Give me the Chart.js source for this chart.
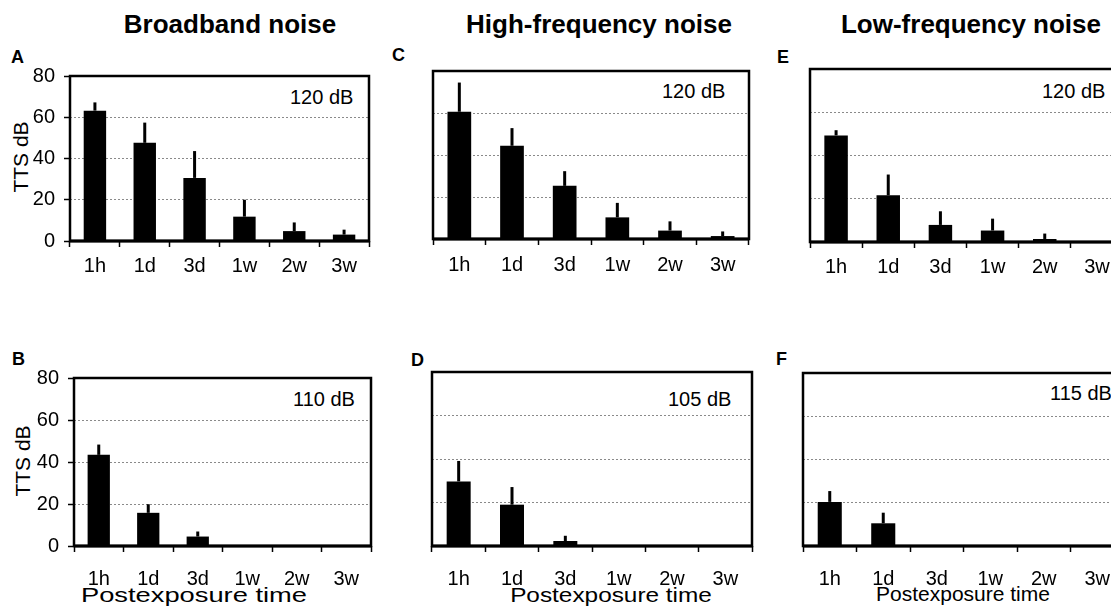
<!DOCTYPE html>
<html><head><meta charset="utf-8">
<script src="https://cdn.jsdelivr.net/npm/chart.js@4.4.1/dist/chart.umd.min.js"></script>
<style>
html,body{margin:0;padding:0;background:#fff}
body{width:1111px;height:609px;overflow:hidden;position:relative;font-family:"Liberation Sans",Arial,Helvetica,sans-serif;color:#000}
.t{position:absolute;white-space:nowrap;line-height:1;color:#000}
.title{font-weight:bold;font-size:26px;transform:translateX(-50%)}
.letter{font-weight:bold;font-size:18px}
.db{font-size:20px}
.yt{font-size:21px;transform:translate(-50%,-50%) rotate(-90deg)}
.xt{font-size:21px}
canvas{position:absolute}
</style></head>
<body>
<div class="t title" style="left:230px;top:11px">Broadband noise</div>
<div class="t title" style="left:599px;top:11px">High-frequency noise</div>
<div class="t title" style="left:971px;top:11px">Low-frequency noise</div>

<div class="t letter" style="left:11px;top:48px">A</div>
<div class="t letter" style="left:12px;top:350px">B</div>
<div class="t letter" style="left:392px;top:46px">C</div>
<div class="t letter" style="left:411px;top:351px">D</div>
<div class="t letter" style="left:777px;top:48px">E</div>
<div class="t letter" style="left:776px;top:350px">F</div>

<div class="t db" style="left:290px;top:87px">120 dB</div>
<div class="t db" style="left:293px;top:389px">110 dB</div>
<div class="t db" style="left:662px;top:81px">120 dB</div>
<div class="t db" style="left:668px;top:389px">105 dB</div>
<div class="t db" style="left:1042px;top:81px">120 dB</div>
<div class="t db" style="left:1050px;top:383px">115 dB</div>

<div class="t yt" style="left:20px;top:157px">TTS dB</div>
<div class="t yt" style="left:22px;top:461px">TTS dB</div>

<div class="t xt" style="left:194px;top:584px;transform:translateX(-50%) scaleX(1.3)">Postexposure time</div>
<div class="t xt" style="left:611px;top:584px;transform:translateX(-50%) scaleX(1.16)">Postexposure time</div>
<div class="t xt" style="left:963px;top:583px;transform:translateX(-50%)">Postexposure time</div>

<script>
// ---- data ----
const categories = ['1h', '1d', '3d', '1w', '2w', '3w'];
const yTickValues = [0, 20, 40, 60, 80];

const broadband120 = [63.2, 47.6, 30.6, 11.8, 4.8, 3.1];
const broadband120Sd = [4.0, 9.8, 13.0, 8.2, 4.2, 2.4];
const broadband110 = [43.4, 15.8, 4.5, 0, 0, 0];
const broadband110Sd = [4.9, 4.1, 2.4, 0, 0, 0];

const highFreq120 = [60.6, 44.4, 25.3, 10.3, 4.0, 1.4];
const highFreq120Sd = [13.9, 8.4, 7.0, 6.9, 4.4, 2.2];
const highFreq105 = [29.7, 19.0, 2.3, 0, 0, 0];
const highFreq105Sd = [9.4, 8.1, 2.4, 0, 0, 0];

const lowFreq120 = [49.3, 21.6, 7.9, 5.3, 1.4, 0];
const lowFreq120Sd = [2.4, 9.6, 6.3, 5.5, 2.5, 0];
const lowFreq115 = [20.4, 10.5, 0, 0, 0, 0];
const lowFreq115Sd = [5.0, 4.9, 0, 0, 0, 0];

// ---- layout ----
const panels = [
  {mean: broadband120, sd: broadband120Sd, box: {l: 70, r: 369, t: 70, b: 241}, yLabels: true, xPad: 7},
  {mean: broadband110, sd: broadband110Sd, box: {l: 74, r: 371, t: 372, b: 546}, yLabels: true, xPad: 15},
  {mean: highFreq120, sd: highFreq120Sd, box: {l: 433, r: 749, t: 71, b: 239}, yLabels: false, xPad: 8},
  {mean: highFreq105, sd: highFreq105Sd, box: {l: 432, r: 752, t: 372, b: 546}, yLabels: false, xPad: 15},
  {mean: lowFreq120, sd: lowFreq120Sd, box: {l: 810, r: 1123, t: 69, b: 242}, yLabels: false, xPad: 7},
  {mean: lowFreq115, sd: lowFreq115Sd, box: {l: 803, r: 1124, t: 373, b: 546}, yLabels: false, xPad: 15}
];

const LEFT = 70, TOP = 15, RIGHT = 6, BOTTOM = 45;
const font = {family: '"Liberation Sans", Arial, sans-serif', size: 20};

panels.forEach(p => {
  const c = document.createElement('canvas');
  const w = p.box.r - p.box.l + LEFT + RIGHT;
  const h = p.box.b - p.box.t + TOP + BOTTOM;
  c.width = w; c.height = h;
  c.style.left = (p.box.l - LEFT) + 'px';
  c.style.top = (p.box.t - TOP) + 'px';
  c.style.width = w + 'px'; c.style.height = h + 'px';
  document.body.appendChild(c);

  const framePlugin = {
    id: 'frameAndErrors',
    afterDatasetsDraw(chart) {
      const {ctx, chartArea: a, scales: {y}} = chart;
      const meta = chart.getDatasetMeta(0);
      ctx.save();
      ctx.strokeStyle = '#000';
      ctx.lineWidth = 3;
      meta.data.forEach((bar, i) => {
        const sd = p.sd[i];
        if (!sd) return;
        const yTop = y.getPixelForValue(p.mean[i] + sd);
        ctx.beginPath();
        ctx.moveTo(bar.x, bar.y);
        ctx.lineTo(bar.x, yTop);
        ctx.stroke();
      });
      ctx.lineWidth = 2.5;
      ctx.strokeRect(a.left, a.top, a.width, a.height);
      ctx.beginPath();
      ctx.lineWidth = 3;
      ctx.moveTo(a.left, a.bottom);
      ctx.lineTo(a.right, a.bottom);
      ctx.stroke();
      ctx.restore();
    }
  };

  new Chart(c, {
    type: 'bar',
    data: {
      labels: categories,
      datasets: [{
        data: p.mean,
        backgroundColor: '#000',
        borderWidth: 0,
        categoryPercentage: 1,
        barPercentage: 0.45
      }]
    },
    options: {
      responsive: false,
      animation: false,
      devicePixelRatio: 1,
      events: [],
      layout: {padding: {left: 0, top: TOP, right: RIGHT, bottom: 0}},
      plugins: {legend: {display: false}, tooltip: {enabled: false}, title: {display: false}},
      scales: {
        x: {
          type: 'category',
          grid: {display: true, drawOnChartArea: false, drawTicks: true, tickLength: 6, tickColor: '#000', tickWidth: 1.5, offset: true},
          border: {display: false},
          ticks: {color: '#000', font: font, padding: p.xPad, autoSkip: false, maxRotation: 0, minRotation: 0},
          afterFit: s => { s.height = BOTTOM; }
        },
        y: {
          min: 0, max: 80,
          afterBuildTicks: s => { s.ticks = yTickValues.map(v => ({value: v})); },
          grid: {
            display: true,
            color: ctx => (ctx.tick && (ctx.tick.value === 0 || ctx.tick.value === 80)) ? 'rgba(0,0,0,0)' : '#8a8a8a',
            lineWidth: 1,
            drawTicks: p.yLabels,
            tickLength: 6,
            tickColor: '#000',
            tickWidth: 1.5,
            tickBorderDash: []
          },
          border: {display: false, dash: [2, 2]},
          ticks: {display: p.yLabels, color: '#000', font: font, padding: 9},
          afterFit: s => { s.width = LEFT; }
        }
      }
    },
    plugins: [framePlugin]
  });
});
</script>
</body></html>
